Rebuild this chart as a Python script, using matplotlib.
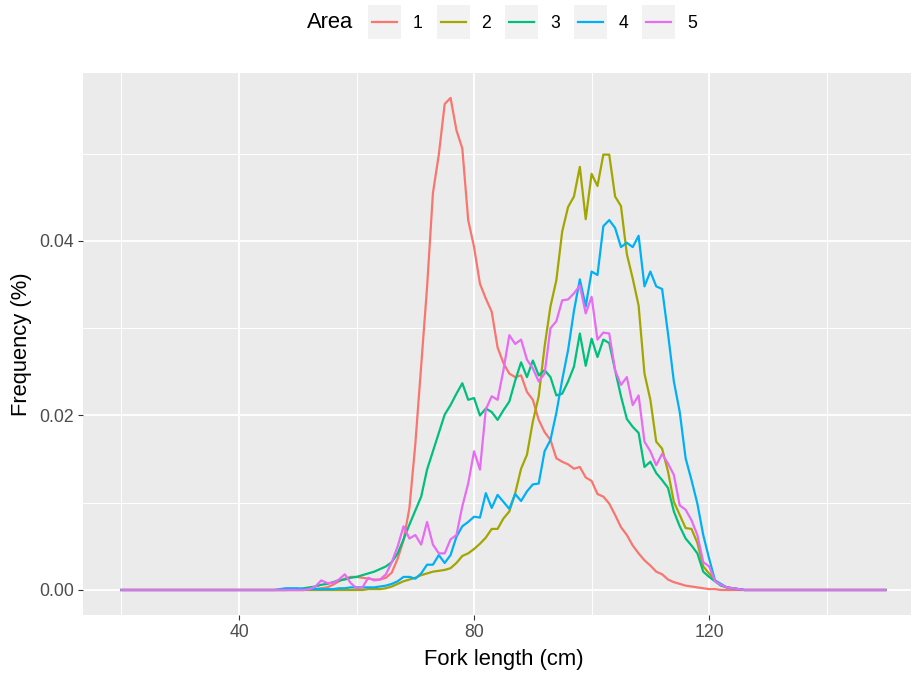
import numpy as np
import matplotlib
matplotlib.use("Agg")
import matplotlib.pyplot as plt
from matplotlib.patches import Rectangle
from matplotlib.lines import Line2D

plt.rcParams['font.family'] = ['Liberation Sans', 'DejaVu Sans']

# fork length bins (cm), all areas
lengths = np.arange(20, 151)
first_bin = 46  # values below are listed from 46 cm to 126 cm, zero elsewhere

area1 = [0, 0, 0, 0, 0, 0,
         0.0001, 0.0001, 0.0002, 0.0003, 0.0006, 0.0010, 0.0013, 0.0015, 0.0015,
         0.0014, 0.0013, 0.0012, 0.0012, 0.0014, 0.0020, 0.0036, 0.0057, 0.0094, 0.0167,
         0.0257, 0.0347, 0.0455, 0.0499, 0.0557, 0.0564, 0.0527, 0.0506, 0.0424, 0.0393,
         0.0351, 0.0334, 0.0319, 0.0278, 0.0260, 0.0248, 0.0244, 0.0246, 0.0227, 0.0218,
         0.0195, 0.0181, 0.0172, 0.0151, 0.0147, 0.0144, 0.0139, 0.0141, 0.0129, 0.0125,
         0.0110, 0.0107, 0.0099, 0.0086, 0.0072, 0.0063, 0.0051, 0.0042, 0.0034, 0.0028,
         0.0021, 0.0018, 0.0012, 0.0009, 0.0007, 0.0005, 0.0004, 0.0003, 0.0002, 0.0001,
         0.0001, 0, 0, 0, 0, 0]

area2 = [0] * 16 + [
         0.0001, 0.0001, 0.0001, 0.0002, 0.0004, 0.0007, 0.0010, 0.0012, 0.0014,
         0.0017, 0.0019, 0.0021, 0.0022, 0.0023, 0.0025, 0.0031, 0.0039, 0.0042, 0.0047,
         0.0053, 0.0060, 0.0070, 0.0070, 0.0082, 0.0090, 0.0111, 0.0139, 0.0155, 0.0193,
         0.0222, 0.0279, 0.0325, 0.0355, 0.0411, 0.0439, 0.0451, 0.0485, 0.0425, 0.0477,
         0.0463, 0.0499, 0.0499, 0.0451, 0.0440, 0.0385, 0.0357, 0.0326, 0.0248, 0.0218,
         0.0170, 0.0162, 0.0136, 0.0101, 0.0086, 0.0071, 0.0070, 0.0054, 0.0027, 0.0019,
         0.0011, 0.0006, 0.0003, 0.0002, 0.0001, 0]

area3 = [0, 0, 0, 0.0001, 0.0001, 0.0002, 0.0003, 0.0004, 0.0006, 0.0007, 0.0009,
         0.0011, 0.0012, 0.0014, 0.0015,
         0.0017, 0.0019, 0.0021, 0.0024, 0.0027, 0.0032, 0.0042, 0.0058, 0.0075, 0.0091,
         0.0107, 0.0138, 0.0159, 0.0180, 0.0201, 0.0212, 0.0225, 0.0237, 0.0218, 0.0220,
         0.0200, 0.0208, 0.0204, 0.0195, 0.0206, 0.0216, 0.0240, 0.0261, 0.0244, 0.0263,
         0.0246, 0.0252, 0.0244, 0.0223, 0.0225, 0.0239, 0.0256, 0.0294, 0.0257, 0.0288,
         0.0267, 0.0287, 0.0283, 0.0252, 0.0222, 0.0196, 0.0187, 0.0180, 0.0141, 0.0147,
         0.0134, 0.0126, 0.0117, 0.0090, 0.0073, 0.0059, 0.0051, 0.0042, 0.0021, 0.0015,
         0.0010, 0.0005, 0.0003, 0.0002, 0.0001, 0]

area4 = [0, 0.0001, 0.0002, 0.0002, 0.0002, 0.0001, 0.0001, 0.0001, 0.0001, 0.0001,
         0.0001, 0.0002, 0.0002, 0.0003, 0.0003,
         0.0003, 0.0003, 0.0003, 0.0004, 0.0005, 0.0007, 0.0010, 0.0015, 0.0015, 0.0013,
         0.0019, 0.0029, 0.0029, 0.0040, 0.0031, 0.0040, 0.0061, 0.0073, 0.0078, 0.0084,
         0.0083, 0.0111, 0.0094, 0.0109, 0.0101, 0.0093, 0.0110, 0.0102, 0.0113, 0.0121,
         0.0122, 0.0159, 0.0172, 0.0203, 0.0241, 0.0275, 0.0320, 0.0356, 0.0325, 0.0365,
         0.0361, 0.0417, 0.0424, 0.0415, 0.0393, 0.0398, 0.0393, 0.0406, 0.0348, 0.0365,
         0.0348, 0.0345, 0.0294, 0.0239, 0.0204, 0.0151, 0.0126, 0.0099, 0.0063, 0.0036,
         0.0011, 0.0007, 0.0003, 0.0002, 0.0001, 0]

area5 = [0, 0, 0, 0, 0, 0,
         0.0001, 0.0004, 0.0011, 0.0008, 0.0008, 0.0012, 0.0018, 0.0008, 0.0002,
         0.0003, 0.0014, 0.0011, 0.0012, 0.0018, 0.0032, 0.0050, 0.0073, 0.0059, 0.0063,
         0.0052, 0.0078, 0.0052, 0.0042, 0.0042, 0.0058, 0.0063, 0.0096, 0.0122, 0.0159,
         0.0138, 0.0207, 0.0222, 0.0218, 0.0252, 0.0292, 0.0282, 0.0287, 0.0264, 0.0254,
         0.0239, 0.0248, 0.0300, 0.0308, 0.0332, 0.0333, 0.0340, 0.0349, 0.0317, 0.0336,
         0.0287, 0.0295, 0.0294, 0.0252, 0.0235, 0.0244, 0.0212, 0.0223, 0.0170, 0.0159,
         0.0143, 0.0156, 0.0145, 0.0132, 0.0097, 0.0092, 0.0080, 0.0063, 0.0032, 0.0027,
         0.0010, 0.0006, 0.0003, 0.0002, 0.0001, 0]

areas = ['1', '2', '3', '4', '5']
colors = ['#F8766D', '#A3A500', '#00BF7D', '#00B0F6', '#E76BF3']
series = [area1, area2, area3, area4, area5]


def full(vals):
    y = np.zeros(len(lengths))
    i = first_bin - lengths[0]
    y[i:i + len(vals)] = vals
    return y


W, H = 912, 677
fig = plt.figure(figsize=(W / 100, H / 100), dpi=100)


def fx(px):
    return px / W


def fy(py):
    return 1 - py / H


# panel runs off the right edge like the original
ax = fig.add_axes([fx(83.3), fy(614.6), fx(840.3), fy(73.3) - fy(614.6)])
ax.set_facecolor('#EBEBEB')
for s in ax.spines.values():
    s.set_visible(False)

for vals, c in zip(series, colors):
    ax.plot(lengths, full(vals), color=c, lw=1.6, solid_joinstyle='round', zorder=3)

ymax = 0.0564
ax.set_xlim(13.5, 156.5)
ax.set_ylim(-0.05 * ymax, 1.05 * ymax)
ax.set_xticks([40, 80, 120])
ax.set_yticks([0, 0.02, 0.04])
ax.set_yticklabels(['0.00', '0.02', '0.04'])
ax.set_xticks([20, 60, 100, 140], minor=True)
ax.set_yticks([0.01, 0.03, 0.05], minor=True)
ax.grid(which='major', color='white', lw=1.3)
ax.grid(which='minor', color='white', lw=0.7)
ax.set_axisbelow(True)
ax.tick_params(which='major', length=3.6, width=0.8, color='#333333',
               labelsize=12.7, labelcolor='#4D4D4D', pad=3)
ax.tick_params(which='minor', length=0)

ax.set_xlabel('Fork length (cm)', fontsize=15.8, color='black', labelpad=6)
ax.set_ylabel('Frequency (%)', fontsize=15.8, color='black', labelpad=5)

# legend on top, title at the left
fig.text(fx(307), fy(23), 'Area', fontsize=15.8, ha='left', va='center')
for i, (lab, c) in enumerate(zip(areas, colors)):
    x0 = 368 + 68.6 * i
    fig.add_artist(Rectangle((fx(x0), fy(39)), fx(33), fy(5) - fy(39),
                             transform=fig.transFigure, facecolor='#F2F2F2',
                             edgecolor='none'))
    fig.add_artist(Line2D([fx(x0 + 4), fx(x0 + 29)], [fy(22), fy(22)],
                          transform=fig.transFigure, color=c, lw=1.6))
    fig.text(fx(x0 + 45), fy(23), lab, fontsize=12.7, ha='left', va='center')

fig.savefig('out.png', dpi=100)
